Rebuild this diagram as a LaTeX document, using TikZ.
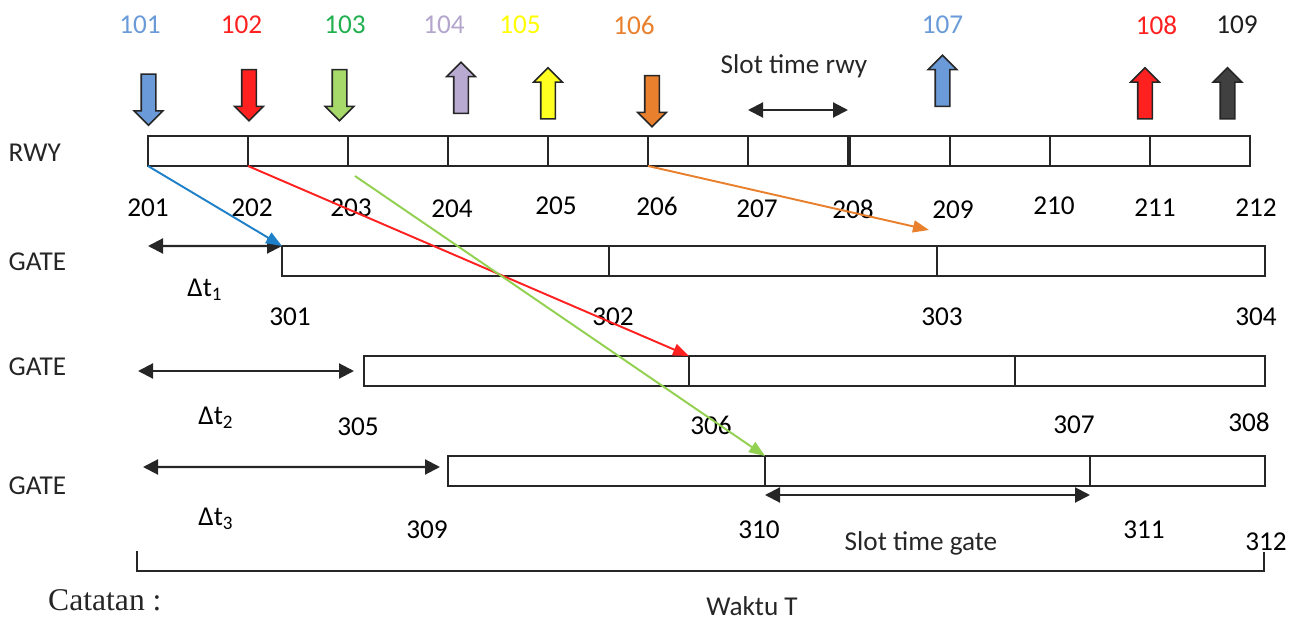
\documentclass[tikz,border=0pt]{standalone}
\usepackage{fontspec}
\setmainfont{Carlito}
\newfontfamily\notefont{Liberation Serif}
\usepackage{tikz}
\usetikzlibrary{arrows.meta,positioning,shapes.arrows}

\definecolor{flagblue}{RGB}{106,155,216}
\definecolor{flagred}{RGB}{255,32,32}
\definecolor{flaggreen}{RGB}{166,216,106}
\definecolor{flaglilac}{RGB}{185,170,210}
\definecolor{flagyellow}{RGB}{255,255,32}
\definecolor{flagorange}{RGB}{232,128,46}
\definecolor{flagdark}{RGB}{64,64,64}
\definecolor{txtgreen}{RGB}{32,176,80}
\definecolor{txtlilac}{RGB}{180,165,205}
\definecolor{txtyellow}{RGB}{255,255,0}
\definecolor{txtdark}{RGB}{30,30,30}
\definecolor{linkblue}{RGB}{30,128,200}
\definecolor{linkgreen}{RGB}{146,208,80}

\begin{document}
\begin{tikzpicture}[
  font=\fontsize{15.5}{18}\selectfont,
  cell/.style={draw=black!85,line width=1pt,minimum width=2cm,minimum height=6mm,
    inner sep=0pt,outer sep=0pt},
  flag/.style={single arrow,draw=black!85,line width=0.9pt,minimum height=10.2mm,
    inner sep=1.3mm,single arrow head extend=1.4mm},
  span/.style={{Triangle[length=3mm,width=3mm]}-{Triangle[length=3mm,width=3mm]},
    line width=1.2pt,draw=black!85},
  link/.style={-{Triangle[length=3.2mm,width=2.4mm]},line width=1.1pt},
  rowlabel/.style={anchor=west,text=black!85}
]
\useasboundingbox (0,0) rectangle (26.08,-12.48);

% flights: label, block arrow (rot -90 = arriving, 90 = departing)
\foreach \id/\lx/\ax/\ay/\rot/\fc/\tc in {
  101/2.8/2.97/-1.92/-90/flagblue/flagblue,
  102/4.83/4.98/-1.83/-90/flagred/flagred,
  103/6.9/6.79/-1.83/-90/flaggreen/txtgreen,
  104/8.88/9.22/-1.83/90/flaglilac/txtlilac,
  105/10.4/10.96/-1.94/90/flagyellow/txtyellow,
  106/12.68/13.04/-1.95/-90/flagorange/flagorange,
  107/18.85/18.85/-1.69/90/flagblue/flagblue,
  108/23.13/22.9/-1.94/90/flagred/flagred,
  109/24.74/24.55/-1.94/90/flagdark/txtdark}{
  \node[text=\tc] (f\id) at (\lx,-0.5) {\id};
  \node[flag,fill=\fc,rotate=\rot] (a\id) at (\ax,\ay) {};
}

% runway slots
\node[rowlabel] (rwy) at (0.05,-3.06) {RWY};
\foreach \i in {1,...,7}
  \node[cell] (r\i) at ({1.96+2*\i},-3.02) {};
\foreach \i in {8,...,11}
  \node[cell] (r\i) at ({2+2*\i},-3.02) {};
\foreach \t/\x/\y in {201/2.96/-4.16,202/5.04/-4.16,203/7.02/-4.16,204/9.04/-4.18,
  205/11.12/-4.12,206/13.14/-4.12,207/15.14/-4.18,208/17.06/-4.18,209/19.06/-4.2,
  210/21.08/-4.12,211/23.1/-4.16,212/25.12/-4.16}
  \node (n\t) at (\x,\y) {\t};

\node[text=black!85] (srwy) at (15.88,-1.33) {Slot time rwy};
\draw[span] ([yshift=5.2mm]r7.north west) -- ([yshift=5.2mm]r7.north east);

% gate rows
\node[rowlabel] (gate1) at (0.05,-5.24) {GATE};
\node[cell,minimum width=6.54cm,anchor=west] (g1a) at (5.64,-5.22) {};
\node[cell,minimum width=6.56cm,right=0pt of g1a] (g1b) {};
\node[cell,minimum width=6.56cm,right=0pt of g1b] (g1c) {};

\node[rowlabel] (gate2) at (0.05,-7.34) {GATE};
\node[cell,minimum width=6.5cm,anchor=west] (g2a) at (7.28,-7.42) {};
\node[cell,minimum width=6.52cm,right=0pt of g2a] (g2b) {};
\node[cell,minimum width=5cm,right=0pt of g2b] (g2c) {};

\node[rowlabel] (gate3) at (0.05,-9.72) {GATE};
\node[cell,minimum width=6.34cm,anchor=west] (g3a) at (8.96,-9.42) {};
\node[cell,minimum width=6.5cm,right=0pt of g3a] (g3b) {};
\node[cell,minimum width=3.5cm,right=0pt of g3b] (g3c) {};

\foreach \t/\x/\y in {301/5.8/-6.34,302/12.26/-6.34,303/18.84/-6.34,304/25.12/-6.34,
  305/7.16/-8.54,306/14.22/-8.5,307/21.48/-8.5,308/24.98/-8.44,
  309/8.54/-10.6,310/15.18/-10.6,311/22.88/-10.6,312/25.32/-10.84}
  \node (n\t) at (\x,\y) {\t};

% waiting times before each gate row
\coordinate (t1) at (2.96,-4.92);
\coordinate (t2) at (2.76,-7.42);
\coordinate (t3) at (2.86,-9.34);
\draw[span] (t1) -- (g1a.north west);
\draw[span] (t2) -- ([xshift=-2mm]g2a.west);
\draw[span] (t3) -- ([xshift=-1.6mm,yshift=0.8mm]g3a.west);
\node (dt1) at (4.1,-5.8) {Δt\textsubscript{1}};
\node (dt2) at (4.32,-8.36) {Δt\textsubscript{2}};
\node (dt3) at (4.32,-10.38) {Δt\textsubscript{3}};

\draw[span] ([yshift=-1.8mm]g3b.south west) -- ([yshift=-1.8mm]g3b.south east);
\node[text=black!85] (sgate) at (18.42,-10.86) {Slot time gate};

% runway to gate assignments
\coordinate (gstart) at (7.1,-3.52);
\coordinate (oend) at (18.58,-4.6);
\draw[link,draw=linkblue,-{Triangle[length=3.2mm,width=2.4mm,fill=linkblue]}] (r1.south west) -- (g1a.north west);
\draw[link,draw=flagred] (r2.south west) -- (g2b.north west);
\draw[link,draw=linkgreen] (gstart) -- (g3b.north west);
\draw[link,draw=flagorange] (r6.south west) -- (oend);

% total time
\draw[line width=0.9pt,draw=black!85] (2.74,-11.02) |- (25.28,-11.42) -- (25.28,-11.04);
\node[text=black!85] (waktu) at (15.04,-12.12) {Waktu T};
\node[anchor=west,font=\notefont\fontsize{18}{21}\selectfont,text=black!85] (catatan) at (0.84,-12.0) {Catatan :};
\end{tikzpicture}
\end{document}
